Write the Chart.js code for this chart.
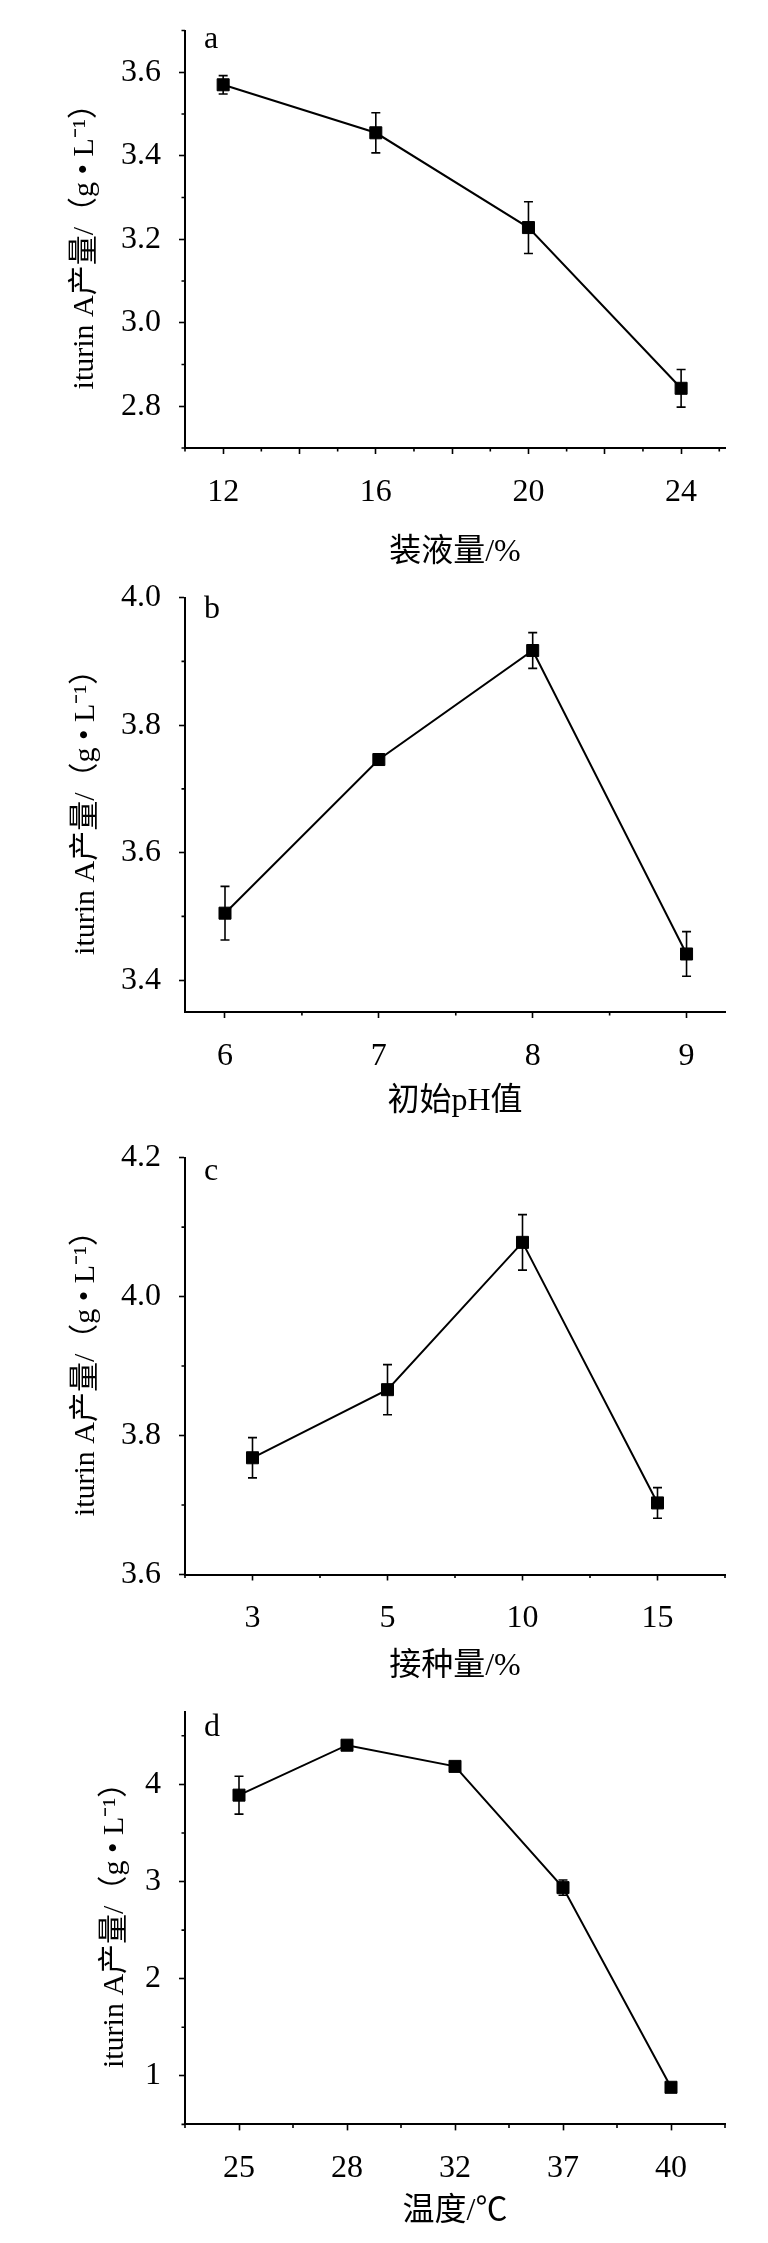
<!DOCTYPE html>
<html>
<head>
<meta charset="utf-8">
<title>iturin A yield</title>
<script src="https://cdn.jsdelivr.net/npm/chart.js"></script>
<style>
  body { margin: 0; background: #fff; }
  canvas { display: block; }
</style>
</head>
<body>
<canvas id="chartA" width="768" height="585"></canvas>
<canvas id="chartB" width="768" height="550"></canvas>
<canvas id="chartC" width="768" height="560"></canvas>
<canvas id="chartD" width="768" height="548"></canvas>
<script>
// a: 装液量
const loadX = [12, 16, 20, 24];
const loadY = [3.57, 3.455, 3.228, 2.843];
const loadErr = [0.022, 0.048, 0.062, 0.045];

// b: 初始pH
const phX = [6, 7, 8, 9];
const phY = [3.505, 3.746, 3.917, 3.441];
const phErr = [0.042, 0.009, 0.028, 0.035];

// c: 接种量
const inocLabels = ['3', '5', '10', '15'];
const inocY = [3.768, 3.866, 4.078, 3.703];
const inocErr = [0.029, 0.036, 0.04, 0.022];

// d: 温度
const tempLabels = ['25', '28', '32', '37', '40'];
const tempY = [3.889, 4.403, 4.185, 2.937, 0.882];
const tempErr = [0.195, 0.03, 0.045, 0.078, 0.02];

const yTitle = 'iturin A产量/（g • L⁻¹）';
const serif = "'Liberation Serif', 'Noto Sans CJK SC', serif";

const evenTenth = v => Math.round(v * 10) % 2 === 0;
const isInt = v => Math.abs(v - Math.round(v)) < 1e-6;

function makeChart(id, c) {
    // 誤差棒と副目盛
    const extras = {
        id: 'extras',
        beforeDatasetsDraw(chart) {
            const ctx = chart.ctx;
            const ys = chart.scales.y;
            const meta = chart.getDatasetMeta(0);
            ctx.save();
            ctx.strokeStyle = '#000';
            ctx.lineWidth = 1.6;
            meta.data.forEach((pt, i) => {
                const v = c.points[i].y, e = c.err[i];
                const y1 = ys.getPixelForValue(v + e), y2 = ys.getPixelForValue(v - e);
                ctx.beginPath();
                ctx.moveTo(pt.x, y1); ctx.lineTo(pt.x, y2);
                ctx.moveTo(pt.x - 4.5, y1); ctx.lineTo(pt.x + 4.5, y1);
                ctx.moveTo(pt.x - 4.5, y2); ctx.lineTo(pt.x + 4.5, y2);
                ctx.stroke();
            });
            ctx.restore();
        },
        afterDraw(chart) {
            const ctx = chart.ctx;
            const xs = chart.scales.x, ys = chart.scales.y;
            ctx.save();
            ctx.strokeStyle = '#000';
            ctx.lineWidth = 1.6;
            ctx.beginPath();
            xs.ticks.forEach(t => {
                if (c.xMajor(t.value)) return;
                const p = xs.getPixelForValue(t.value);
                ctx.moveTo(p, xs.top); ctx.lineTo(p, xs.top + 3.5);
            });
            ys.ticks.forEach(t => {
                if (c.yMajor(t.value)) return;
                const p = ys.getPixelForValue(t.value);
                ctx.moveTo(ys.right, p); ctx.lineTo(ys.right - 3.5, p);
            });
            ctx.stroke();
            // パネル記号
            ctx.fillStyle = '#000';
            ctx.font = '32px ' + serif;
            ctx.textBaseline = 'alphabetic';
            ctx.fillText(c.letter, chart.chartArea.left + 19, chart.chartArea.top + c.letterDy);
            ctx.restore();
        }
    };

    return new Chart(document.getElementById(id), {
        type: 'line',
        data: {
            datasets: [{
                data: c.points,
                borderColor: '#000',
                borderWidth: 2,
                backgroundColor: '#000',
                pointStyle: 'rect',
                pointRadius: 8.5,
                pointBorderWidth: 1,
                pointBackgroundColor: '#000',
                pointBorderColor: '#000',
                tension: 0,
                clip: false
            }]
        },
        options: {
            responsive: false,
            animation: false,
            events: [],
            layout: { padding: { top: c.top, right: 43, left: 0, bottom: 0 } },
            plugins: { legend: { display: false }, tooltip: { enabled: false } },
            scales: {
                x: {
                    type: 'linear',
                    min: c.xMin, max: c.xMax,
                    border: { display: true, color: '#000', width: 2 },
                    grid: {
                        display: true, drawOnChartArea: false, drawTicks: true,
                        tickLength: 6, tickWidth: 1.6,
                        tickColor: ctx => c.xMajor(ctx.tick.value) ? '#000' : 'rgba(0,0,0,0)'
                    },
                    ticks: {
                        stepSize: c.xStep, includeBounds: false, autoSkip: false,
                        maxRotation: 0, padding: 19, color: '#000',
                        font: { family: serif, size: 32 },
                        callback: v => c.xLabel(v)
                    },
                    title: {
                        display: true, text: c.xTitle, color: '#000',
                        font: { family: serif, size: 32 },
                        padding: { top: 0, bottom: c.xTitlePad }
                    },
                    afterFit: s => { s.height = c.xHeight; s.paddingLeft = 0; s.paddingRight = 0; }
                },
                y: {
                    type: 'linear',
                    min: c.yMin, max: c.yMax,
                    border: { display: true, color: '#000', width: 2 },
                    grid: {
                        display: true, drawOnChartArea: false, drawTicks: true,
                        tickLength: 6, tickWidth: 1.6,
                        tickColor: ctx => c.yMajor(ctx.tick.value) ? '#000' : 'rgba(0,0,0,0)'
                    },
                    ticks: {
                        stepSize: c.yStep, includeBounds: false, autoSkip: false,
                        padding: 18, color: '#000',
                        font: { family: serif, size: 32 },
                        callback: v => c.yLabel(v)
                    },
                    title: {
                        display: true, text: yTitle, color: '#000',
                        font: { family: serif, size: 30 },
                        padding: { top: c.yTitlePad, bottom: 0 }
                    },
                    afterFit: s => { s.width = 185; s.paddingTop = 0; s.paddingBottom = 0; }
                }
            }
        },
        plugins: [extras]
    });
}

const tenthLabel = v => evenTenth(v) ? (Math.round(v * 10) / 10).toFixed(1) : '';

makeChart('chartA', {
    points: loadX.map((x, i) => ({ x: x, y: loadY[i] })),
    err: loadErr, letter: 'a', letterDy: 17,
    xMin: 11, xMax: 25.15, xStep: 1,
    xLabel: v => Math.round(v) % 4 === 0 ? String(Math.round(v)) : '',
    xMajor: v => Math.round(v) % 2 === 0,
    yMin: 2.7, yMax: 3.7, yStep: 0.1,
    yLabel: tenthLabel, yMajor: evenTenth,
    top: 30.5, xHeight: 137, xTitle: '装液量/%', xTitlePad: 13, yTitlePad: 67
});

makeChart('chartB', {
    points: phX.map((x, i) => ({ x: x, y: phY[i] })),
    err: phErr, letter: 'b', letterDy: 20,
    xMin: 5.74, xMax: 9.25, xStep: 0.5,
    xLabel: v => isInt(v) ? String(Math.round(v)) : '',
    xMajor: isInt,
    yMin: 3.35, yMax: 4.0, yStep: 0.1,
    yLabel: tenthLabel, yMajor: evenTenth,
    top: 12.6, xHeight: 123, xTitle: '初始pH值', xTitlePad: 14, yTitlePad: 68
});

makeChart('chartC', {
    points: inocLabels.map((l, i) => ({ x: i, y: inocY[i] })),
    err: inocErr, letter: 'c', letterDy: 22,
    xMin: -0.5, xMax: inocLabels.length - 0.5, xStep: 0.5,
    xLabel: v => isInt(v) ? inocLabels[Math.round(v)] : '',
    xMajor: isInt,
    yMin: 3.6, yMax: 4.2, yStep: 0.1,
    yLabel: tenthLabel, yMajor: evenTenth,
    top: 22.6, xHeight: 120.5, xTitle: '接种量/%', xTitlePad: 9, yTitlePad: 68
});

makeChart('chartD', {
    points: tempLabels.map((l, i) => ({ x: i, y: tempY[i] })),
    err: tempErr, letter: 'd', letterDy: 24,
    xMin: -0.5, xMax: tempLabels.length - 0.5, xStep: 0.5,
    xLabel: v => isInt(v) ? tempLabels[Math.round(v)] : '',
    xMajor: isInt,
    yMin: 0.5, yMax: 4.75, yStep: 0.5,
    yLabel: v => isInt(v) ? String(Math.round(v)) : '',
    yMajor: isInt,
    top: 16.5, xHeight: 118.6, xTitle: '温度/℃', xTitlePad: 12, yTitlePad: 97
});
</script>
</body>
</html>
